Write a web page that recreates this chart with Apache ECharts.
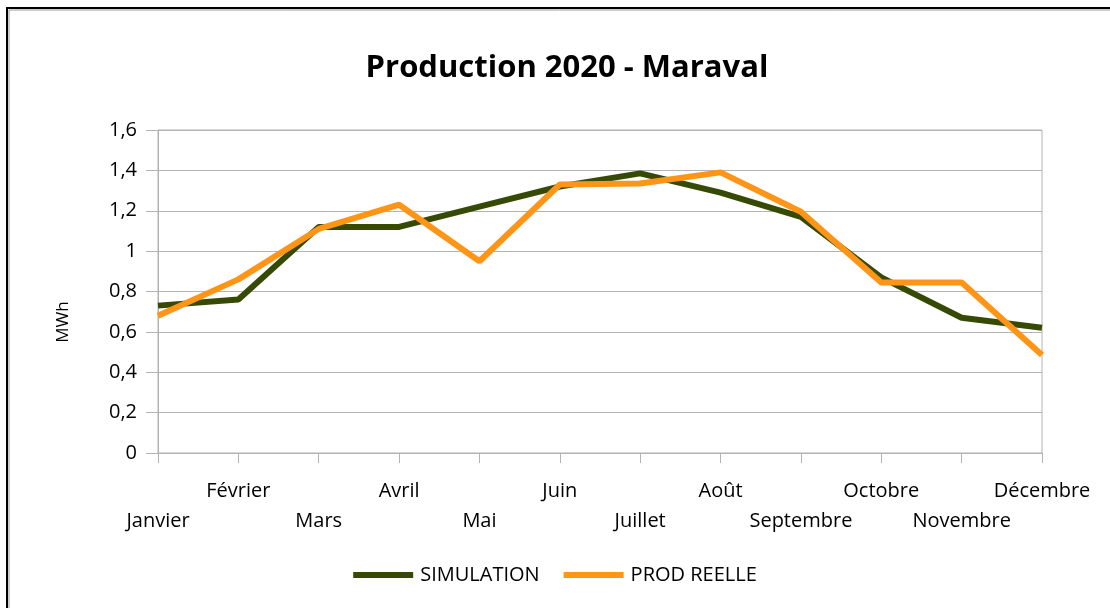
<!DOCTYPE html>
<html>
<head>
<meta charset="utf-8">
<script src="https://cdn.jsdelivr.net/npm/echarts@6/dist/echarts.min.js"></script>
<style>
  html, body { margin: 0; padding: 0; background: #fff; }
  #chart { width: 1110px; height: 608px; }
</style>
</head>
<body>
<div id="chart"></div>
<script>
// data
const months = ['Janvier', 'Février', 'Mars', 'Avril', 'Mai', 'Juin', 'Juillet', 'Août', 'Septembre', 'Octobre', 'Novembre', 'Décembre'];
const simulation = [0.73, 0.76, 1.12, 1.12, 1.22, 1.32, 1.385, 1.29, 1.17, 0.87, 0.67, 0.62];
const prodReelle = [0.68, 0.86, 1.11, 1.23, 0.95, 1.33, 1.335, 1.39, 1.195, 0.845, 0.845, 0.485];

const font = 'Open Sans';
const gridGray = '#b3b3b3';

const chart = echarts.init(document.getElementById('chart'));
chart.setOption({
  animation: false,
  backgroundColor: '#fff',
  title: {
    text: 'Production 2020 - Maraval',
    left: 562,
    top: 48,
    textAlign: 'center',
    textStyle: { fontFamily: font, fontWeight: 'bold', fontSize: 31, color: '#000' }
  },
  legend: {
    data: ['SIMULATION', 'PROD REELLE'],
    left: 'center',
    top: 560,
    itemWidth: 60,
    itemHeight: 6,
    itemGap: 24,
    icon: 'rect',
    textStyle: { fontFamily: font, fontSize: 20, color: '#000', padding: [0, 0, 0, 2] }
  },
  grid: {
    left: 158, right: 68, top: 130, bottom: 155,
    show: true, borderColor: gridGray, borderWidth: 1
  },
  xAxis: {
    type: 'category',
    data: months,
    boundaryGap: false,
    axisLine: { lineStyle: { color: gridGray } },
    axisTick: { show: true, length: 10, alignWithLabel: true, lineStyle: { color: gridGray } },
    axisLabel: {
      interval: 0,
      margin: 23,
      fontFamily: font,
      fontSize: 20,
      color: '#000',
      lineHeight: 30,
      formatter: (v, i) => (i % 2 === 0 ? '\n' + v : v)
    }
  },
  yAxis: {
    type: 'value',
    min: 0, max: 1.6, interval: 0.2,
    axisLine: { show: true, lineStyle: { color: gridGray } },
    axisTick: { show: true, length: 12, lineStyle: { color: gridGray } },
    splitLine: { lineStyle: { color: gridGray } },
    axisLabel: {
      margin: 21,
      fontFamily: font,
      fontSize: 20,
      color: '#000',
      formatter: v => String(Math.round(v * 10) / 10).replace('.', ',')
    }
  },
  graphic: [
    {
      type: 'text', rotation: Math.PI / 2, x: 63, y: 322,
      style: { text: 'MWh', fontFamily: font, fontSize: 17, fill: '#000', textAlign: 'center', textVerticalAlign: 'middle' }
    },
    {
      type: 'polyline',
      shape: { points: [[7, 608], [7, 8], [1110, 8]] },
      style: { stroke: '#000', lineWidth: 2, fill: null }
    },
    {
      type: 'polyline',
      shape: { points: [[9, 608], [9, 10], [1110, 10]] },
      style: { stroke: '#9a9a9a', lineWidth: 1, fill: null }
    }
  ],
  series: [
    {
      name: 'SIMULATION',
      type: 'line',
      data: simulation,
      symbol: 'none',
      color: '#364a06',
      lineStyle: { width: 6, color: '#364a06' }
    },
    {
      name: 'PROD REELLE',
      type: 'line',
      data: prodReelle,
      symbol: 'none',
      color: '#ff9516',
      lineStyle: { width: 6, color: '#ff9516' }
    }
  ]
});
</script>
</body>
</html>
